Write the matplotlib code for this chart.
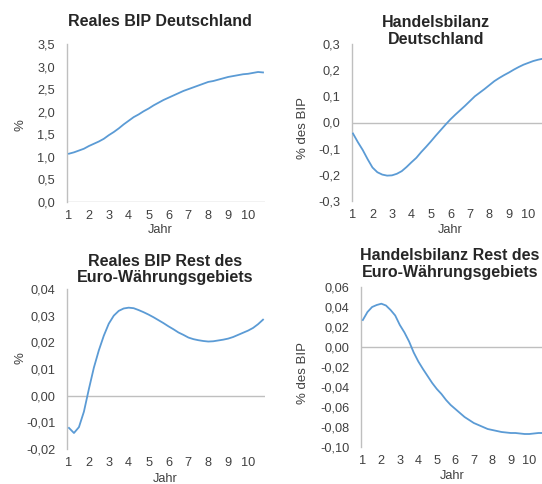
import numpy as np
import matplotlib
matplotlib.use("Agg")
import matplotlib.pyplot as plt

plt.rcParams['font.family'] = ['Liberation Sans', 'DejaVu Sans']

# quarterly steps, years 1 .. 10.75
jahr = [1 + q / 4 for q in range(40)]
jahr_ticks = list(range(1, 11))

bip_de = [1.07, 1.10, 1.14, 1.18, 1.24, 1.29, 1.34, 1.40, 1.48, 1.55,
          1.63, 1.72, 1.80, 1.88, 1.94, 2.01, 2.07, 2.14, 2.20, 2.26,
          2.31, 2.36, 2.41, 2.46, 2.50, 2.54, 2.58, 2.62, 2.66, 2.68,
          2.71, 2.74, 2.77, 2.79, 2.81, 2.83, 2.84, 2.86, 2.88, 2.87]

hb_de = [-0.042, -0.075, -0.105, -0.140, -0.172, -0.190, -0.199, -0.203,
         -0.202, -0.196, -0.186, -0.170, -0.152, -0.135, -0.113, -0.093,
         -0.072, -0.050, -0.029, -0.008, 0.012, 0.030, 0.047, 0.064,
         0.082, 0.100, 0.114, 0.128, 0.143, 0.158, 0.170, 0.181,
         0.191, 0.202, 0.212, 0.221, 0.228, 0.235, 0.240, 0.244]

bip_rest = [-0.0121, -0.0140, -0.0118, -0.0060, 0.0025, 0.0105, 0.0170,
            0.0225, 0.0270, 0.0300, 0.0318, 0.0327, 0.0330, 0.0328,
            0.0321, 0.0313, 0.0304, 0.0294, 0.0283, 0.0272, 0.0260,
            0.0249, 0.0237, 0.0228, 0.0218, 0.0212, 0.0208, 0.0205,
            0.0203, 0.0204, 0.0207, 0.0210, 0.0214, 0.0220, 0.0228,
            0.0236, 0.0244, 0.0254, 0.0268, 0.0285]

hb_rest = [0.027, 0.035, 0.040, 0.042, 0.0433, 0.0415, 0.037, 0.0315,
           0.022, 0.0145, 0.0055, -0.0055, -0.0145, -0.022, -0.029, -0.036,
           -0.042, -0.047, -0.053, -0.058, -0.062, -0.066, -0.070, -0.073,
           -0.076, -0.078, -0.080, -0.082, -0.083, -0.084, -0.085, -0.0855,
           -0.086, -0.086, -0.0865, -0.087, -0.087, -0.0865, -0.086, -0.086]

W, H = 542, 484
LINE = "#5b9bd5"
AXC = "#bfbfbf"
TXT = "#404040"


def fmt(v, dec):
    s = f"{v:.{dec}f}"
    if abs(v) < 1e-9:
        s = s.lstrip("-")
    return s.replace(".", ",")


panels = [
    # data, title, ylabel, yticks, decimals, axes box px (l, t, r, b), xlim,
    # title centre px (x, y), ylabel x px, ylabel y px, "Jahr" x/y px
    (bip_de, "Reales BIP Deutschland", "%", np.arange(0, 3.51, 0.5), 1,
     (67, 44, 265, 202), (0.9, 10.85), (160, 21), 20, 125, (160, 230)),
    (hb_de, "Handelsbilanz\nDeutschland", "% des BIP",
     np.arange(-0.3, 0.31, 0.1), 1,
     (352, 44, 545, 201), (0.95, 10.85), (436, 31), 303, 128, (450, 230)),
    (bip_rest, "Reales BIP Rest des\nEuro-Währungsgebiets", "%",
     np.arange(-0.02, 0.041, 0.01), 2,
     (67, 289, 265, 449), (0.9, 10.85), (165, 269.5), 20, 358, (165, 479)),
    (hb_rest, "Handelsbilanz Rest des\nEuro-Währungsgebiets", "% des BIP",
     np.arange(-0.10, 0.061, 0.02), 2,
     (361, 287, 545, 447), (0.9, 10.85), (450, 264), 303, 373, (452, 476)),
]

fig = plt.figure(figsize=(W / 100, H / 100), dpi=100)

for data, title, ylab, yt, dec, (l, t, r, b), xl, (tx, ty), ylx, yly, (jx, jy) in panels:
    ax = fig.add_axes([l / W, 1 - b / H, (r - l) / W, (b - t) / H])
    ax.axhline(0, color=AXC, lw=1.0, zorder=1)
    ax.plot(jahr, data, color=LINE, lw=1.3, zorder=3)
    ax.set_xlim(*xl)
    ax.set_ylim(yt[0], yt[-1])
    ax.set_yticks(yt)
    ax.set_yticklabels([fmt(v, dec) for v in yt])
    ax.set_xticks(jahr_ticks)
    ax.set_xticklabels([str(j) for j in jahr_ticks])
    ax.tick_params(length=0, labelsize=9.2, colors=TXT)
    ax.tick_params(axis="y", pad=8.5)
    ax.tick_params(axis="x", pad=6)
    for s in ("top", "right", "bottom"):
        ax.spines[s].set_visible(False)
    ax.spines["left"].set_color(AXC)
    ax.spines["left"].set_linewidth(1.0)
    ax.patch.set_alpha(0)

    fig.text(tx / W, 1 - ty / H, title, fontsize=11.5, fontweight="bold",
             color="#262626", ha="center", va="center", linespacing=1.12)
    fig.text(ylx / W, 1 - yly / H, ylab, fontsize=9.5, color=TXT,
             rotation=90, ha="center", va="center")
    fig.text(jx / W, 1 - jy / H, "Jahr", fontsize=9.2, color=TXT,
             ha="center", va="center")

fig.savefig("out.png", dpi=100)
